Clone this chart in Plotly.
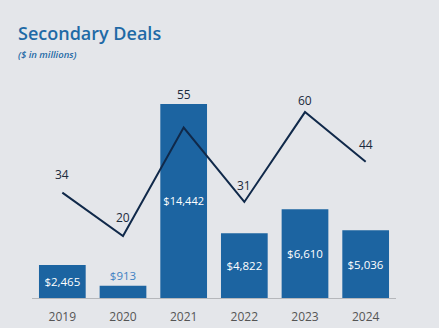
import plotly.graph_objects as go

years = ["2019", "2020", "2021", "2022", "2023", "2024"]
deal_value = [2465, 913, 14442, 4822, 6610, 5036]
deal_count = [34, 20, 55, 31, 60, 44]
value_labels = ["$2,465", "$913", "$14,442", "$4,822", "$6,610", "$5,036"]

# styling per bar label (position/colour) and per count-label offset
bar_text_pos = ["inside", "outside", "inside", "inside", "inside", "inside"]
bar_text_col = ["white", "#3f80c2", "white", "white", "white", "white"]
count_yshift = [18, 19, 33, 16, 12, 17]

BG = "#e4e6ea"
BAR = "#1c64a1"
LINE = "#10294a"
FONT = "Open Sans"

fig = go.Figure()
fig.add_trace(go.Bar(
    x=years, y=deal_value, text=value_labels,
    textposition=bar_text_pos, insidetextanchor="middle", textangle=0,
    textfont=dict(color=bar_text_col, size=11.5, family=FONT),
    marker=dict(color=BAR, line=dict(width=0)),
    cliponaxis=False, hoverinfo="skip",
))
fig.add_trace(go.Scatter(
    x=years, y=deal_count, mode="lines", yaxis="y2",
    line=dict(color=LINE, width=2), hoverinfo="skip",
))
anns = []
for i, (c, s) in enumerate(zip(deal_count, count_yshift)):
    anns.append(dict(x=i, y=c, xref="x", yref="y2", text=str(c), showarrow=False,
                     yshift=s, font=dict(size=12, color="#1b2a3c", family=FONT)))

anns += [
    dict(text="Secondary Deals", xref="paper", yref="paper",
         x=(16-32)/364, y=(328-33-30)/198, xanchor="left", yanchor="middle",
         showarrow=False, font=dict(size=18, color="#1f6aa6", family=FONT, weight=600)),
    dict(text="<i>($ in millions)</i>", xref="paper", yref="paper",
         x=(16-32)/364, y=(328-55-30)/198, xanchor="left", yanchor="middle",
         showarrow=False, font=dict(size=9.5, color="#1f6aa6", family=FONT, weight=600)),
]

fig.update_layout(
    width=439, height=328, paper_bgcolor=BG, plot_bgcolor=BG,
    margin=dict(l=32, r=43, t=100, b=30, autoexpand=False),
    showlegend=False, bargap=0.23,
    font=dict(family=FONT),
    xaxis=dict(type="category", range=[-0.5, 5.5], showline=True, linecolor="#b5b7bb",
               linewidth=1, ticks="outside", ticklen=8, tickcolor=BG, automargin=False,
               tickfont=dict(size=12, color="#555555"), showgrid=False),
    yaxis=dict(range=[0, 14743], visible=False, showgrid=False, automargin=False),
    yaxis2=dict(range=[0, 63.9], overlaying="y", visible=False, showgrid=False, automargin=False),
    annotations=anns,
)
fig.write_html("out.html")
